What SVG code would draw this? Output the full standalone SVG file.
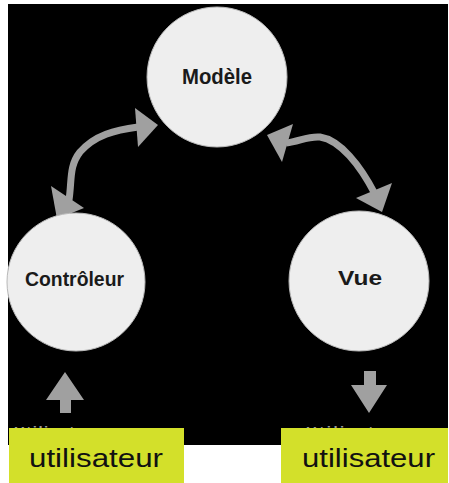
<svg xmlns="http://www.w3.org/2000/svg" width="449" height="483" viewBox="0 0 449 483">
  <style>
    .node { fill: #eeeeee; stroke: #b8b8b8; stroke-width: 1; }
    .label { font-family: "Liberation Sans", Arial, sans-serif; font-weight: bold; fill: #1a1a1a; }
    .shaft { fill: none; stroke: #a0a0a0; stroke-width: 7; }
    .head { fill: #a0a0a0; }
    .tag { fill: #d3e02a; }
    .tagtext { font-family: "Liberation Sans", Arial, sans-serif; font-size: 26px; fill: #111111; }
    .ghost { font-family: "Liberation Sans", Arial, sans-serif; font-size: 15px; font-weight: bold; fill: #9a9a9a; }
  </style>

  <!-- page and dark panel -->
  <rect x="0" y="0" width="449" height="483" fill="#ffffff"/>
  <rect x="8" y="4" width="440" height="441" fill="#000000"/>

  <!-- connectors -->
  <g id="connectors">
    <!-- Contrôleur <-> Modèle -->
    <path class="shaft" d="M 69,200 C 72,180 69,166 80,152 C 95,135 115,130 138,127"/>
    <polygon class="head" points="135,108 158,125 138,147"/>
    <polygon class="head" points="51,186 84,208 57,219"/>
    <!-- Modèle <-> Vue -->
    <path class="shaft" d="M 286,143 C 300,141 308,136 320,137 C 340,140 360,165 375,194"/>
    <polygon class="head" points="293,124 267,135 282,162"/>
    <polygon class="head" points="356,198 392,183 382,212"/>
    <!-- user input / output -->
    <polygon class="head" points="65,372 84,400 71,400 71,413 60,413 60,400 46,400"/>
    <polygon class="head" points="364,371 376,371 376,385 387,385 369,413 351,385 364,385"/>
  </g>

  <g id="modele">
    <circle class="node" cx="217" cy="77" r="70"/>
    <text class="label" x="182" y="84" font-size="22" textLength="70" lengthAdjust="spacingAndGlyphs">Modèle</text>
  </g>

  <g id="controleur">
    <circle class="node" cx="76" cy="282" r="69"/>
    <text class="label" x="25" y="286" font-size="21" textLength="99" lengthAdjust="spacingAndGlyphs">Contrôleur</text>
  </g>

  <g id="vue">
    <circle class="node" cx="359" cy="281" r="70"/>
    <text class="label" x="338" y="285" font-size="21" textLength="44" lengthAdjust="spacingAndGlyphs">Vue</text>
  </g>

  <!-- user captions, partly covered by the tags -->
  <g id="utilisateur-gauche">
    <text class="ghost" x="14" y="437" textLength="88" lengthAdjust="spacing">Utilisateur</text>
    <rect class="tag" x="9" y="428" width="175" height="55"/>
    <text class="tagtext" x="29" y="467" textLength="134" lengthAdjust="spacingAndGlyphs">utilisateur</text>
  </g>

  <g id="utilisateur-droite">
    <text class="ghost" x="306" y="437" textLength="98" lengthAdjust="spacing">Utilisateur</text>
    <rect class="tag" x="281" y="428" width="167" height="55"/>
    <text class="tagtext" x="302" y="467" textLength="133" lengthAdjust="spacingAndGlyphs">utilisateur</text>
  </g>
</svg>
